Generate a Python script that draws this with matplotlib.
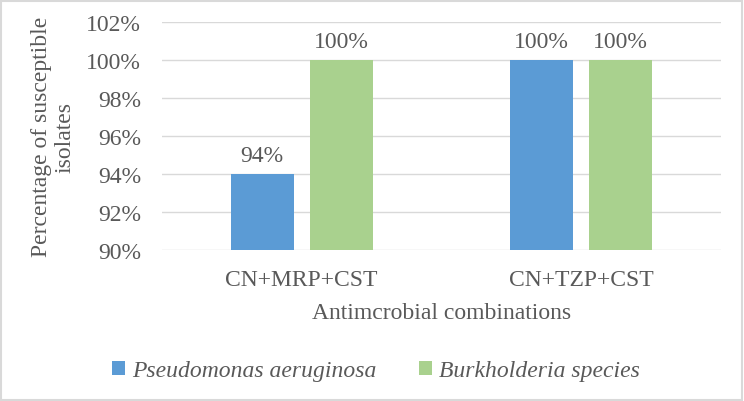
import matplotlib.pyplot as plt
import numpy as np
from matplotlib.patches import Rectangle

categories = ["CN+MRP+CST", "CN+TZP+CST"]
series_names = ["Pseudomonas aeruginosa", "Burkholderia species"]
pseudomonas = [94, 100]
burkholderia = [100, 100]
yticks = [90, 92, 94, 96, 98, 100, 102]

colors = ["#5B9BD5", "#A9D18E"]
txt = "#595959"
fs = 17
plt.rcParams['font.family'] = ['Liberation Serif', 'DejaVu Serif']

fig = plt.figure(figsize=(7.44, 4.02), dpi=100)
ax = fig.add_axes([0.2177, 0.3756, 0.7513, 0.5672])

x = np.arange(len(categories))
w = 0.225
off = 0.141
bars = []
for i, (vals, c) in enumerate(zip([pseudomonas, burkholderia], colors)):
    b = ax.bar(x + (i * 2 - 1) * off, vals, width=w, color=c, zorder=3, label=series_names[i])
    bars.append(b)
    for rect, v in zip(b, vals):
        ax.annotate(f"{v}%", (rect.get_x() + rect.get_width() / 2, v), xytext=(0, 6),
                    textcoords="offset points", ha="center", va="bottom", fontsize=fs, color=txt)

ax.set_ylim(90, 102)
ax.set_xlim(-0.5, 1.5)
ax.set_yticks(yticks)
ax.set_yticklabels([f"{t}%" for t in yticks], fontsize=fs, color=txt)
ax.set_xticks(x)
ax.set_xticklabels(categories, fontsize=fs, color=txt)
ax.tick_params(axis='x', length=0, pad=14)
ax.tick_params(axis='y', length=0, pad=15)
ax.grid(axis='y', color="#D9D9D9", linewidth=1, zorder=0)
for s in ax.spines.values():
    s.set_visible(False)

ax.set_xlabel("Antimcrobial combinations", fontsize=fs, color=txt, labelpad=8)
ax.set_ylabel("Percentage of susceptible\nisolates", fontsize=fs, color=txt, labelpad=8,
              linespacing=1.15)

leg = fig.legend(handles=bars, labels=series_names, loc="center", bbox_to_anchor=(0.505, 0.075),
                 ncol=2, frameon=False, prop={'family': 'Liberation Serif', 'style': 'italic', 'size': fs},
                 handlelength=0.55, handleheight=0.55, handletextpad=0.3, columnspacing=1.8)
for t in leg.get_texts():
    t.set_color(txt)

fig.patches.append(Rectangle((0.002, 0.003), 0.995, 0.993, transform=fig.transFigure,
                             fill=False, edgecolor="#D9D9D9", linewidth=1.5))

fig.savefig("out.png", dpi=100)
